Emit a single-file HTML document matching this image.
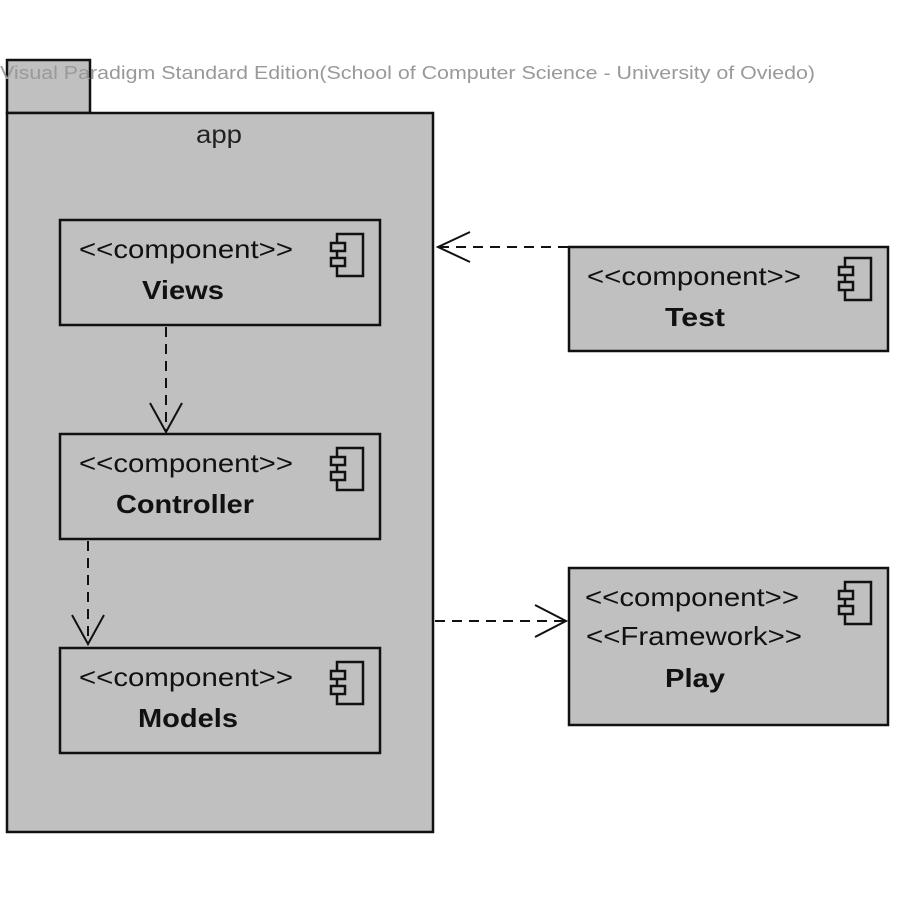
<!DOCTYPE html>
<html><head><style>body{margin:0;background:#fff}</style></head><body>
<svg width="900" height="899" xmlns="http://www.w3.org/2000/svg" font-family="Liberation Sans, sans-serif">
<rect width="900" height="899" fill="#fff"/>
<g stroke="#111" stroke-width="2.5" fill="#c0c0c0">
<rect x="7" y="60" width="83" height="53"/>
<rect x="7" y="113" width="426" height="719"/>
<rect x="60" y="220" width="320" height="105"/>
<rect x="60" y="434" width="320" height="105"/>
<rect x="60" y="648" width="320" height="105"/>
<rect x="569" y="247" width="319" height="104"/>
<rect x="569" y="568" width="319" height="157"/>
</g>
<text x="0" y="79" font-size="18" fill="#999" textLength="815" lengthAdjust="spacingAndGlyphs">Visual Paradigm Standard Edition(School of Computer Science - University of Oviedo)</text>
<text x="196" y="143" font-size="25" fill="#222" textLength="46" lengthAdjust="spacingAndGlyphs">app</text>
<g font-size="26" fill="#111">
<text x="79" y="258" textLength="214" lengthAdjust="spacingAndGlyphs">&lt;&lt;component&gt;&gt;</text><text x="142" y="299" font-weight="bold" textLength="82" lengthAdjust="spacingAndGlyphs">Views</text>
<text x="79" y="472" textLength="214" lengthAdjust="spacingAndGlyphs">&lt;&lt;component&gt;&gt;</text><text x="116" y="513" font-weight="bold" textLength="138" lengthAdjust="spacingAndGlyphs">Controller</text>
<text x="79" y="686" textLength="214" lengthAdjust="spacingAndGlyphs">&lt;&lt;component&gt;&gt;</text><text x="138" y="727" font-weight="bold" textLength="100" lengthAdjust="spacingAndGlyphs">Models</text>
<text x="587" y="285" textLength="214" lengthAdjust="spacingAndGlyphs">&lt;&lt;component&gt;&gt;</text><text x="665" y="326" font-weight="bold" textLength="60" lengthAdjust="spacingAndGlyphs">Test</text>
<text x="585" y="606" textLength="214" lengthAdjust="spacingAndGlyphs">&lt;&lt;component&gt;&gt;</text><text x="586" y="645" textLength="216" lengthAdjust="spacingAndGlyphs">&lt;&lt;Framework&gt;&gt;</text><text x="665" y="687" font-weight="bold" textLength="60" lengthAdjust="spacingAndGlyphs">Play</text>
</g>
<defs><g id="ic" stroke="#111" stroke-width="2.5" fill="#c0c0c0"><rect x="6" y="0" width="26" height="42"/><rect x="0" y="9" width="14" height="8"/><rect x="0" y="24" width="14" height="8"/></g></defs>
<use href="#ic" x="331" y="234"/><use href="#ic" x="331" y="448"/><use href="#ic" x="331" y="662"/>
<use href="#ic" x="839" y="258"/><use href="#ic" x="839" y="582"/>
<g stroke="#111" stroke-width="2" fill="none" stroke-dasharray="10,7">
<line x1="166" y1="327" x2="166" y2="430"/>
<line x1="88" y1="541" x2="88" y2="643"/>
<line x1="568" y1="247" x2="440" y2="247"/>
<line x1="435" y1="621" x2="564" y2="621"/>
</g>
<g stroke="#111" stroke-width="2" fill="none">
<polyline points="150,403 166,432 182,403"/>
<polyline points="72,615 88,644 104,615"/>
<polyline points="470,232 438,247 470,262"/>
<polyline points="535,605 566,621 535,637"/>
</g>
</svg>
</body></html>
